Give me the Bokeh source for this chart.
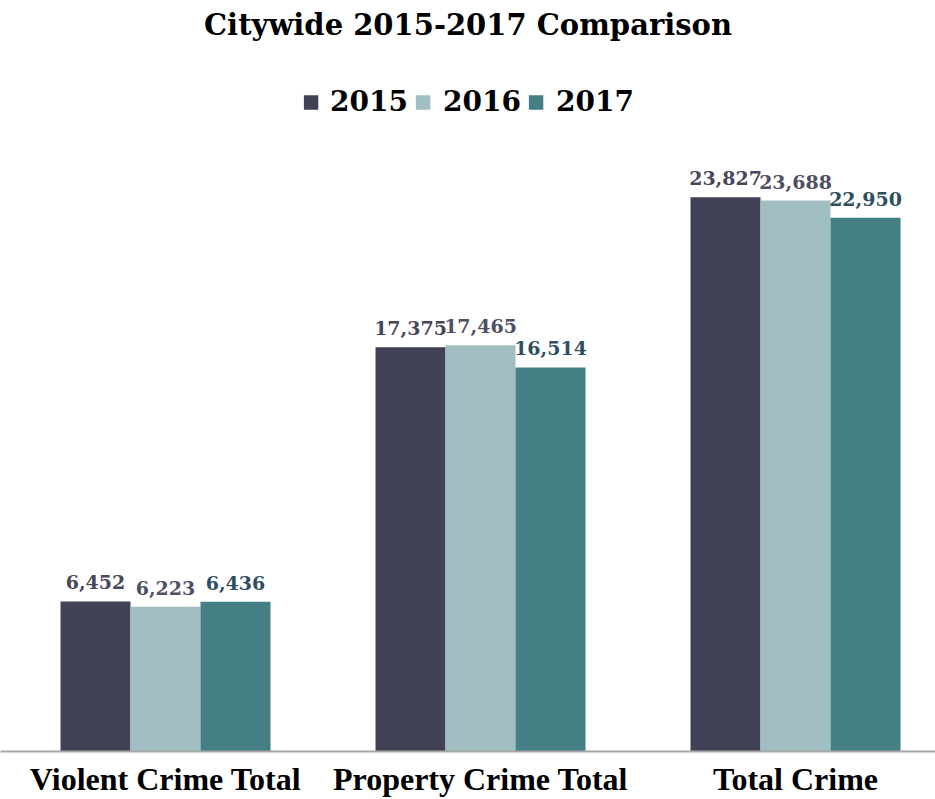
from bokeh.plotting import figure
from bokeh.models import ColumnDataSource, Legend, LegendItem, LabelSet, Range1d, FixedTicker
from bokeh.core.properties import value
from bokeh.transform import dodge
from bokeh.embed import file_html
from bokeh.resources import INLINE

categories = ["Violent Crime Total", "Property Crime Total", "Total Crime"]
years = ["2015", "2016", "2017"]
v2015 = [6452, 17375, 23827]
v2016 = [6223, 17465, 23688]
v2017 = [6436, 16514, 22950]

bar_colors = ["#414256", "#a1bec2", "#437f84"]
label_colors = ["#474759", "#4f4f63", "#2e4f5f"]

series = [v2015, v2016, v2017]
idx = list(range(len(categories)))

p = figure(width=935, height=799, output_backend="svg", toolbar_location=None,
           x_range=Range1d(-0.5238, 2.4444), y_range=Range1d(0, 30310),
           min_border_left=0, min_border_right=0, min_border_top=0, min_border_bottom=0,
           title="Citywide 2015-2017 Comparison")

p.title.align = "center"
p.title.text_font = "DejaVu Serif"
p.title.text_font_style = "bold"
p.title.text_font_size = "29px"
p.title.text_color = "#000000"

bw = 0.2222
offsets = [-bw, 0.0, bw]
items = []
for yr, vals, off, bc, lc in zip(years, series, offsets, bar_colors, label_colors):
    src = ColumnDataSource(dict(x=idx, v=vals, t=[f"{a:,}" for a in vals]))
    r = p.vbar(x=dodge("x", off), top="v", width=bw, source=src,
               fill_color=bc, line_color=None)
    items.append(LegendItem(label=yr, renderers=[r]))
    labels = LabelSet(x=dodge("x", off), y="v", text="t", source=src,
                      text_align="center", text_baseline="bottom", y_offset=12,
                      text_font=value("DejaVu Serif"), text_font_style="bold",
                      text_font_size="19px", text_color=lc)
    p.add_layout(labels)

legend = Legend(items=items, orientation="horizontal", location="top_center",
                border_line_color=None, background_fill_alpha=0,
                label_text_font="DejaVu Serif", label_text_font_style="bold",
                label_text_font_size="28px", label_text_color="#000000",
                glyph_width=18, glyph_height=18, label_standoff=11, spacing=6,
                margin=39, padding=5)
p.add_layout(legend)

p.xaxis.ticker = FixedTicker(ticks=idx)
p.xaxis.major_label_overrides = {i: c for i, c in zip(idx, categories)}
p.xaxis.axis_line_color = "#a6a6a6"
p.xaxis.axis_line_width = 2
p.xaxis.major_tick_line_color = None
p.xaxis.minor_tick_line_color = None
p.xaxis.major_tick_out = 0
p.xaxis.major_tick_in = 0
p.xaxis.minor_tick_out = 0
p.xaxis.major_label_text_font = "Liberation Serif"
p.xaxis.major_label_text_font_style = "bold"
p.xaxis.major_label_text_font_size = "32px"
p.xaxis.major_label_text_color = "#000000"
p.xaxis.major_label_standoff = 9
p.yaxis.visible = False
p.xgrid.visible = False
p.ygrid.visible = False
p.outline_line_color = None

open("out.html", "w").write(file_html(p, INLINE))
